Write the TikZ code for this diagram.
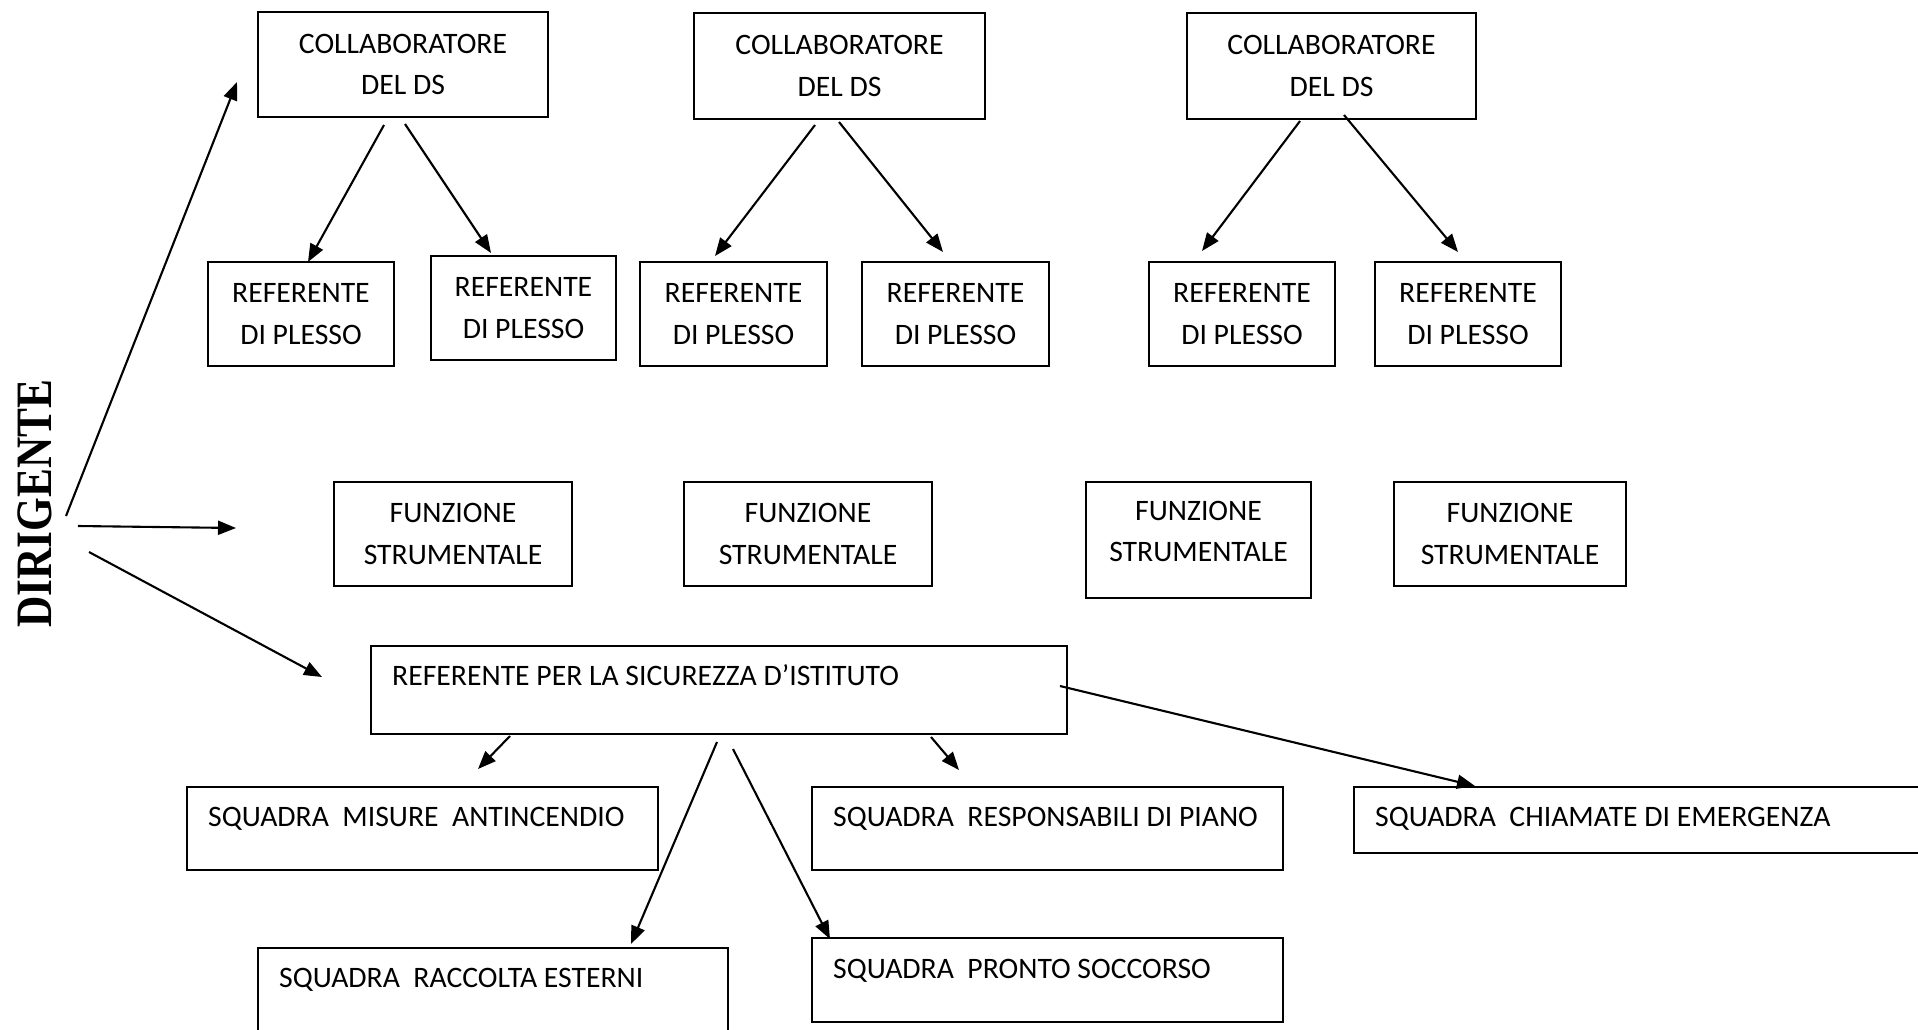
\documentclass[tikz,border=0pt]{standalone}
\usepackage{fontspec}
\setmainfont{Carlito}
\newfontfamily\dirfont{Liberation Serif}
\usetikzlibrary{arrows.meta,calc}
\tikzset{
  box/.style={draw, line width=1.8pt, anchor=north west, inner sep=0pt, outer sep=0pt, align=center,
              font=\fontsize{29.7}{41.5}\selectfont},
  lbl/.style={anchor=base west, inner sep=0pt, font=\fontsize{29.7}{41.5}\selectfont},
  arr/.style={line width=2.1pt, -{Triangle[length=18pt,width=14pt]}}
}
\begin{document}
\begin{tikzpicture}[x=1pt,y=-1pt]
\useasboundingbox (0,0) rectangle (1918,1029);
\clip (0,0) rectangle (1918,1029);
\fill[white] (0,0) rectangle (1918,1029);

% DIRIGENTE
\node[rotate=90, inner sep=0pt] (dir) at (35,503.5)
  {\scalebox{0.85}[1]{\dirfont\bfseries\fontsize{51}{51}\selectfont DIRIGENTE}};

% Collaboratori
\node[box, minimum width=290pt, minimum height=105pt] (c1) at (258,12) {COLLABORATORE\\DEL DS};
\node[box, minimum width=291pt, minimum height=106pt] (c2) at (694,13) {COLLABORATORE\\DEL DS};
\node[box, minimum width=289pt, minimum height=106pt] (c3) at (1187,13) {COLLABORATORE\\DEL DS};

% Referenti di plesso
\node[box, minimum width=186pt, minimum height=104pt] (r1) at (208,262) {REFERENTE\\DI PLESSO};
\node[box, minimum width=185pt, minimum height=104pt] (r2) at (431,256) {REFERENTE\\DI PLESSO};
\node[box, minimum width=187pt, minimum height=104pt] (r3) at (640,262) {REFERENTE\\DI PLESSO};
\node[box, minimum width=187pt, minimum height=104pt] (r4) at (862,262) {REFERENTE\\DI PLESSO};
\node[box, minimum width=186pt, minimum height=104pt] (r5) at (1149,262) {REFERENTE\\DI PLESSO};
\node[box, minimum width=186pt, minimum height=104pt] (r6) at (1375,262) {REFERENTE\\DI PLESSO};

% Funzioni strumentali
\node[box, minimum width=238pt, minimum height=104pt] (f1) at (334,482) {FUNZIONE\\STRUMENTALE};
\node[box, minimum width=248pt, minimum height=104pt] (f2) at (684,482) {FUNZIONE\\STRUMENTALE};
\node[box, minimum width=225pt, minimum height=116pt] (f3) at (1086,482) {};
\node[align=center, inner sep=0pt, font=\fontsize{29.7}{41.5}\selectfont] (f3t)
  at ($(f3.north west)+(112.5,49.5)$) {FUNZIONE\\STRUMENTALE};
\node[box, minimum width=232pt, minimum height=104pt] (f4) at (1394,482) {FUNZIONE\\STRUMENTALE};

% Sicurezza
\node[box, minimum width=696pt, minimum height=88pt] (sic) at (371,646) {};
\node[lbl] (sict) at ($(sic.north west)+(21,39.5)$) {REFERENTE PER LA SICUREZZA D’ISTITUTO};

% Squadre
\node[box, minimum width=471pt, minimum height=83pt] (ant) at (187,787) {};
\node[lbl] (antt) at ($(ant.north west)+(21,39.5)$) {SQUADRA\ \ MISURE\ \ ANTINCENDIO};
\node[box, minimum width=471pt, minimum height=83pt] (res) at (812,787) {};
\node[lbl] (rest) at ($(res.north west)+(21,39.5)$) {SQUADRA\ \ RESPONSABILI DI PIANO};
\node[box, minimum width=620pt, minimum height=66pt] (chi) at (1354,787) {};
\node[lbl] (chit) at ($(chi.north west)+(21,39.5)$) {SQUADRA\ \ CHIAMATE DI EMERGENZA};
\node[box, minimum width=470pt, minimum height=110pt] (rac) at (258,948) {};
\node[lbl] (ract) at ($(rac.north west)+(21,39.5)$) {SQUADRA\ \ RACCOLTA ESTERNI};
\node[box, minimum width=471pt, minimum height=84pt] (pro) at (812,938) {};
\node[lbl] (prot) at ($(pro.north west)+(21,40)$) {SQUADRA\ \ PRONTO SOCCORSO};

% Connectors from DIRIGENTE
\draw[arr] ($(dir.center)+(31,12.5)$) -- ($(c1.north west)+(-21,70)$);
\draw[arr] ($(dir.center)+(43,22.5)$) -- ($(f1.north west)+(-98,46)$);
\draw[arr] ($(dir.center)+(54,48.5)$) -- ($(sic.north west)+(-49,31)$);

% Collaboratori -> referenti
\draw[arr] ($(c1.north west)+(126,113)$) -- ($(r1.north west)+(100,0)$);
\draw[arr] ($(c1.north west)+(147,112)$) -- ($(r2.north west)+(60,-3)$);
\draw[arr] ($(c2.north west)+(121,112)$) -- ($(r3.north west)+(75,-6)$);
\draw[arr] ($(c2.north west)+(145,109)$) -- ($(r4.north west)+(81,-10)$);
\draw[arr] ($(c3.north west)+(113,108)$) -- ($(r5.north west)+(53,-11)$);
\draw[arr] ($(c3.north west)+(157,102)$) -- ($(r6.north west)+(83,-10)$);

% Sicurezza -> squadre
\draw[arr] ($(sic.north west)+(139,90)$) -- ($(ant.north west)+(291,-18)$);
\draw[arr] ($(sic.north west)+(346,96)$) -- ($(rac.north west)+(373,-4)$);
\draw[arr] ($(sic.north west)+(362,103)$) -- ($(pro.north west)+(18,1)$);
\draw[arr] ($(sic.north west)+(560,91)$) -- ($(res.north west)+(147,-17)$);
\draw[arr] ($(sic.north west)+(689,40)$) -- ($(chi.north west)+(121,-1)$);
\end{tikzpicture}
\end{document}
